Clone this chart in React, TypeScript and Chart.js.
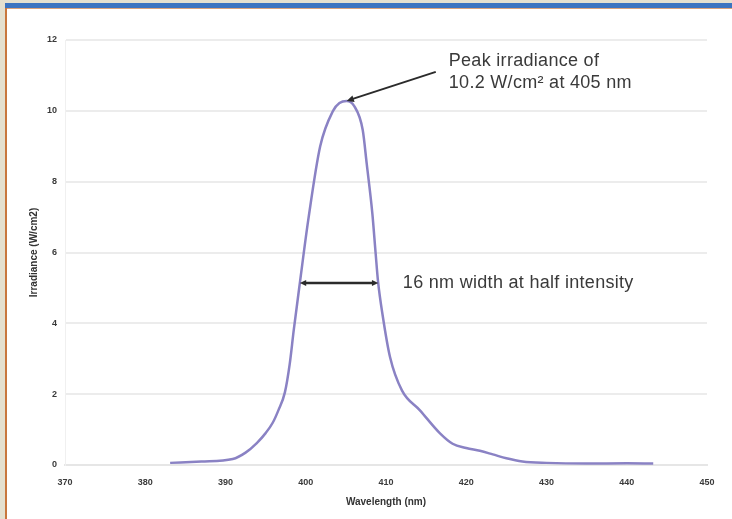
import React, { useEffect, useRef } from "react";
import { Chart, registerables } from "chart.js";

Chart.register(...registerables);

// ---- data ----
const wavelengths = [
  383.1, 387, 390.9, 392.5, 393.9, 395, 395.9, 396.6, 397.4, 398.0, 398.5,
  399.3, 400.3, 401.8, 403.4, 404.2, 405.1, 406, 407.1, 407.6, 408.3, 408.7,
  409, 409.6, 410.5, 412, 414.2, 416.7, 418.3, 420, 421.7, 423.3, 425, 427,
  430, 435, 440, 443.3,
];
const irradiance = [
  0.06, 0.1, 0.17, 0.35, 0.62, 0.9, 1.2, 1.55, 2.05, 2.85, 3.8,
  5.2, 6.9, 9.0, 10.0, 10.22, 10.28, 10.15, 9.46, 8.5, 7.1, 6.0,
  5.2, 4.2, 3.05, 2.1, 1.55, 0.9, 0.6, 0.48, 0.4, 0.3, 0.19, 0.1,
  0.06, 0.04, 0.05, 0.04,
];
const xTicks = [370, 380, 390, 400, 410, 420, 430, 440, 450];
const yTicks = [0, 2, 4, 6, 8, 10, 12];
const xTitle = "Wavelength (nm)";
const yTitle = "Irradiance (W/cm2)";
const peakLabel = ["Peak irradiance of", "10.2 W/cm\u00B2 at 405 nm"];
const widthLabel = "16 nm width at half intensity";
const peakLabelAnchor = [416.2, 11.1]; // arrow tail, in data units
const widthLabelX = 412.1; // data units

function crossings(level: number): [number, number] {
  let left = wavelengths[0];
  let right = wavelengths[wavelengths.length - 1];
  for (let i = 1; i < wavelengths.length; i++) {
    const a = irradiance[i - 1];
    const b = irradiance[i];
    if (a < level && b >= level) {
      left = wavelengths[i - 1] + ((level - a) / (b - a)) * (wavelengths[i] - wavelengths[i - 1]);
    }
    if (a >= level && b < level) {
      right = wavelengths[i - 1] + ((a - level) / (a - b)) * (wavelengths[i] - wavelengths[i - 1]);
    }
  }
  return [left, right];
}

function arrowHead(ctx: CanvasRenderingContext2D, x1: number, y1: number, x2: number, y2: number, size: number) {
  const ang = Math.atan2(y2 - y1, x2 - x1);
  ctx.beginPath();
  ctx.moveTo(x2, y2);
  ctx.lineTo(x2 - size * Math.cos(ang - 0.45), y2 - size * Math.sin(ang - 0.45));
  ctx.lineTo(x2 - size * Math.cos(ang + 0.45), y2 - size * Math.sin(ang + 0.45));
  ctx.closePath();
  ctx.fill();
}

const annotationPlugin = {
  id: "annotations",
  afterDatasetsDraw(chart: any) {
    const { ctx, scales } = chart;
    const xs = scales.x;
    const ys = scales.y;
    let peakIdx = 0;
    irradiance.forEach((v, i) => {
      if (v > irradiance[peakIdx]) peakIdx = i;
    });
    const px = xs.getPixelForValue(wavelengths[peakIdx]);
    const py = ys.getPixelForValue(irradiance[peakIdx]);
    const tx = xs.getPixelForValue(peakLabelAnchor[0]);
    const ty = ys.getPixelForValue(peakLabelAnchor[1]);

    ctx.save();
    ctx.strokeStyle = "#2b2b2b";
    ctx.fillStyle = "#2b2b2b";
    ctx.lineWidth = 2;
    ctx.beginPath();
    ctx.moveTo(tx, ty);
    ctx.lineTo(px + 3, py - 1);
    ctx.stroke();
    arrowHead(ctx, tx, ty, px, py, 8);

    // half intensity arrow
    const half = irradiance[peakIdx] / 2;
    const [l, r] = crossings(half);
    const lx = xs.getPixelForValue(l);
    const rx = xs.getPixelForValue(r);
    const hy = ys.getPixelForValue(half);
    ctx.lineWidth = 2.5;
    ctx.beginPath();
    ctx.moveTo(lx + 5, hy);
    ctx.lineTo(rx - 5, hy);
    ctx.stroke();
    arrowHead(ctx, rx, hy, lx, hy, 7);
    arrowHead(ctx, lx, hy, rx, hy, 7);

    // texts
    ctx.fillStyle = "#3a3a3a";
    ctx.font = "18px 'Liberation Sans', Arial, sans-serif";
    try {
      (ctx as any).letterSpacing = "0.3px";
    } catch (e) {}
    ctx.textBaseline = "alphabetic";
    ctx.textAlign = "left";
    ctx.fillText(peakLabel[0], tx + 13, ty - 6);
    ctx.fillText(peakLabel[1], tx + 13, ty + 16);
    ctx.textBaseline = "middle";
    ctx.fillText(widthLabel, xs.getPixelForValue(widthLabelX), hy);
    ctx.restore();
  },
};

export default function App() {
  const ref = useRef<HTMLCanvasElement | null>(null);

  useEffect(() => {
    if (!ref.current) return;
    const fam = "'Liberation Sans', Arial, sans-serif";
    const tickFont = { family: fam, size: 9, weight: "bold" as const };
    const chart = new Chart(ref.current, {
      type: "line",
      data: {
        datasets: [
          {
            data: wavelengths.map((w, i) => ({ x: w, y: irradiance[i] })),
            borderColor: "#8a82c4",
            borderWidth: 2.5,
            pointRadius: 0,
            cubicInterpolationMode: "monotone",
            fill: false,
          },
        ],
      },
      options: {
        responsive: false,
        animation: false,
        devicePixelRatio: 1,
        layout: { padding: { top: 40, right: 25, left: 0, bottom: 0 } },
        plugins: { legend: { display: false }, tooltip: { enabled: false } },
        scales: {
          x: {
            type: "linear",
            min: 370,
            max: 450,
            afterBuildTicks: (s: any) => {
              s.ticks = xTicks.map((v) => ({ value: v }));
            },
            afterFit: (s: any) => {
              s.height = 54;
            },
            grid: { display: false, drawTicks: false },
            border: { display: true, color: "#e6e6e6", width: 2 },
            ticks: { padding: 12, color: "#3a3a3a", font: tickFont, maxRotation: 0 },
            title: {
              display: true,
              text: xTitle,
              color: "#333",
              font: { family: fam, size: 10, weight: "bold" },
              padding: { top: 0, bottom: 11 },
            },
          },
          y: {
            type: "linear",
            min: 0,
            max: 12,
            afterBuildTicks: (s: any) => {
              s.ticks = yTicks.map((v) => ({ value: v }));
            },
            afterFit: (s: any) => {
              s.width = 65;
            },
            grid: { color: "#ececec", lineWidth: 2, drawTicks: false },
            border: { display: true, color: "#f0f0f0", width: 1 },
            ticks: { padding: 8, color: "#3a3a3a", font: tickFont },
            title: {
              display: true,
              text: yTitle,
              color: "#333",
              font: { family: fam, size: 10, weight: "bold" },
              padding: { top: 28, bottom: 0 },
            },
          },
        },
      },
      plugins: [annotationPlugin],
    } as any);
    return () => chart.destroy();
  }, []);

  return (
    <div style={{ position: "fixed", left: 0, top: 0, width: 732, height: 519, background: "#e4e0cf", overflow: "hidden" }}>
      <div style={{ position: "absolute", left: 5, top: 3, right: 0, height: 5, background: "#3b74c0" }} />
      <div style={{ position: "absolute", left: 5, top: 8, right: 0, height: 1, background: "#d9a27a" }} />
      <div style={{ position: "absolute", left: 5, top: 8, width: 2, bottom: 0, background: "#c8773d" }} />
      <div style={{ position: "absolute", left: 7, top: 9, right: 0, bottom: 0, background: "#ffffff" }} />
      <canvas ref={ref} width={732} height={519} style={{ position: "absolute", left: 0, top: 0, width: 732, height: 519 }} />
    </div>
  );
}
